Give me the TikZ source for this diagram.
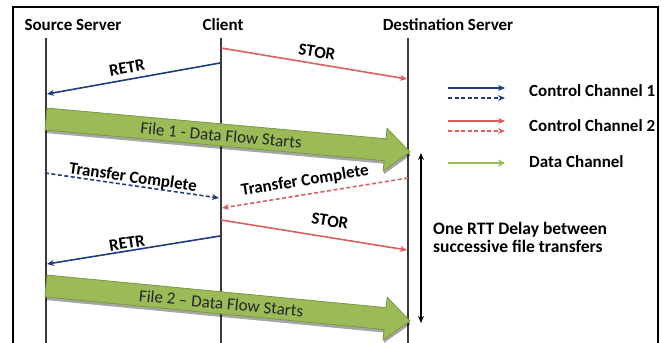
\documentclass[tikz,border=0pt]{standalone}
\usepackage{fontspec}
\setmainfont{Carlito}
\usetikzlibrary{arrows.meta}

\definecolor{ctrlblue}{HTML}{1F3C7F}
\definecolor{ctrlred}{HTML}{D9605E}
\definecolor{datagreen}{HTML}{9BBB59}
\definecolor{dataedge}{HTML}{7A9844}
\definecolor{lifegray}{HTML}{3A3A3A}

% a fat green data-flow arrow: name, start point, angle, length, label
\newcommand\dataflow[5]{%
  \begin{scope}[shift={#2}, rotate=#3]
    \fill[black, opacity=0.35, shift={(1,3)}]
      (0,-11) -- (#4-25,-11) -- (#4-25,-21.5) -- (#4,0) -- (#4-25,21.5) -- (#4-25,11) -- (0,11) -- cycle;
    \filldraw[fill=datagreen, draw=dataedge, line width=0.8pt]
      (0,-11) -- (#4-25,-11) -- (#4-25,-21.5) -- (#4,0) -- (#4-25,21.5) -- (#4-25,11) -- (0,11) -- cycle;
    \node[flowtext, rotate=#3] (#1) at (176,0.5) {#5};
  \end{scope}}

\begin{document}
\begin{tikzpicture}[x=1pt, y=-1pt,
  every node/.style={inner sep=0pt, font=\fontsize{17}{18}\selectfont\bfseries},
  flowtext/.style={font=\fontsize{17}{18}\selectfont, text=black!85},
  lifeline/.style={draw=lifegray, line width=2pt},
  ctrlone/.style={draw=ctrlblue, line width=1.6pt, -{Stealth[length=7pt,width=6pt]}},
  ctrltwo/.style={draw=ctrlred, line width=1.6pt, -{Stealth[length=7pt,width=6pt]}},
  dashpat/.style={dash pattern=on 4pt off 2.5pt},
  datalegend/.style={draw=datagreen, line width=2.6pt, -{Stealth[length=7pt,width=7pt]}},
  lbl/.style={anchor=center}]

\useasboundingbox (0,0) rectangle (662,343);

% outer frame (open at the bottom)
\draw[line width=2.5pt] (13,343) -- (13,7) -- (658,7) -- (658,343);

% participants
\node (src) at (73,25) {Source Server};
\node (cli) at (223,25) {Client};
\node (dst) at (448,25) {Destination Server};

% lifelines
\coordinate (srcTop) at (45.5,38);  \coordinate (srcBot) at (45.5,343);
\coordinate (cliTop) at (220.5,38); \coordinate (cliBot) at (220.5,343);
\coordinate (dstTop) at (408,38);   \coordinate (dstBot) at (408,343);
\draw[lifeline] (srcTop) -- (srcBot);
\draw[lifeline] (cliTop) -- (cliBot);
\draw[lifeline] (dstTop) -- (dstBot);

% first file: STOR / RETR
\coordinate (stor1a) at (221,48);  \coordinate (stor1b) at (407,79);
\draw[ctrltwo] (stor1a) -- (stor1b);
\node[lbl, rotate=-9.1] (stor1l) at (317,52) {STOR};

\coordinate (retr1a) at (220,63);  \coordinate (retr1b) at (47,94);
\draw[ctrlone] (retr1a) -- (retr1b);
\node[lbl, rotate=10.1] (retr1l) at (127,68) {RETR};

\dataflow{file1}{(46,119)}{-5.18}{365.5}{File 1 - Data Flow Starts}

% transfer complete notifications
\coordinate (tc1a) at (45,173);  \coordinate (tc1b) at (219,198);
\draw[ctrlone, dashpat] (tc1a) -- (tc1b);
\node[lbl, rotate=-8.2] (tc1l) at (133,178) {Transfer Complete};

\coordinate (tc2a) at (408,178);  \coordinate (tc2b) at (222,208);
\draw[ctrltwo, dashpat] (tc2a) -- (tc2b);
\node[lbl, rotate=9.2] (tc2l) at (305,181) {Transfer Complete};

% second file: STOR / RETR
\coordinate (stor2a) at (221,220);  \coordinate (stor2b) at (407,250);
\draw[ctrltwo] (stor2a) -- (stor2b);
\node[lbl, rotate=-9.1] (stor2l) at (330,221) {STOR};

\coordinate (retr2a) at (220,236);  \coordinate (retr2b) at (47,264);
\draw[ctrlone] (retr2a) -- (retr2b);
\node[lbl, rotate=9.2] (retr2l) at (127,243) {RETR};

\dataflow{file2}{(46,286)}{-5.49}{365.7}{File 2 -- Data Flow Starts}

% RTT delay marker
\coordinate (rttTop) at (421,153);  \coordinate (rttBot) at (421,323);
\draw[line width=1.8pt, {Stealth[length=7pt,width=6pt]}-{Stealth[length=7pt,width=6pt]}] (rttTop) -- (rttBot);
\node[anchor=west, align=left, font=\fontsize{17.5}{18}\selectfont\bfseries] (rtt) at (433,237)
  {One RTT Delay between\\successive file transfers};

% legend
\coordinate (l1a) at (448,88);   \coordinate (l1b) at (505,88);
\coordinate (l2a) at (448,98);   \coordinate (l2b) at (505,98);
\coordinate (l3a) at (448,121);  \coordinate (l3b) at (505,121);
\coordinate (l4a) at (448,131);  \coordinate (l4b) at (505,131);
\coordinate (l5a) at (448,163);  \coordinate (l5b) at (505,163);
\draw[ctrlone] (l1a) -- (l1b);
\draw[ctrlone, dashpat] (l2a) -- (l2b);
\draw[ctrltwo] (l3a) -- (l3b);
\draw[ctrltwo, dashpat] (l4a) -- (l4b);
\draw[datalegend] (l5a) -- (l5b);
\node[anchor=west] (leg1) at (529,91) {Control Channel 1};
\node[anchor=west] (leg2) at (529,126) {Control Channel 2};
\node[anchor=west] (leg3) at (529,162) {Data Channel};

\end{tikzpicture}
\end{document}
